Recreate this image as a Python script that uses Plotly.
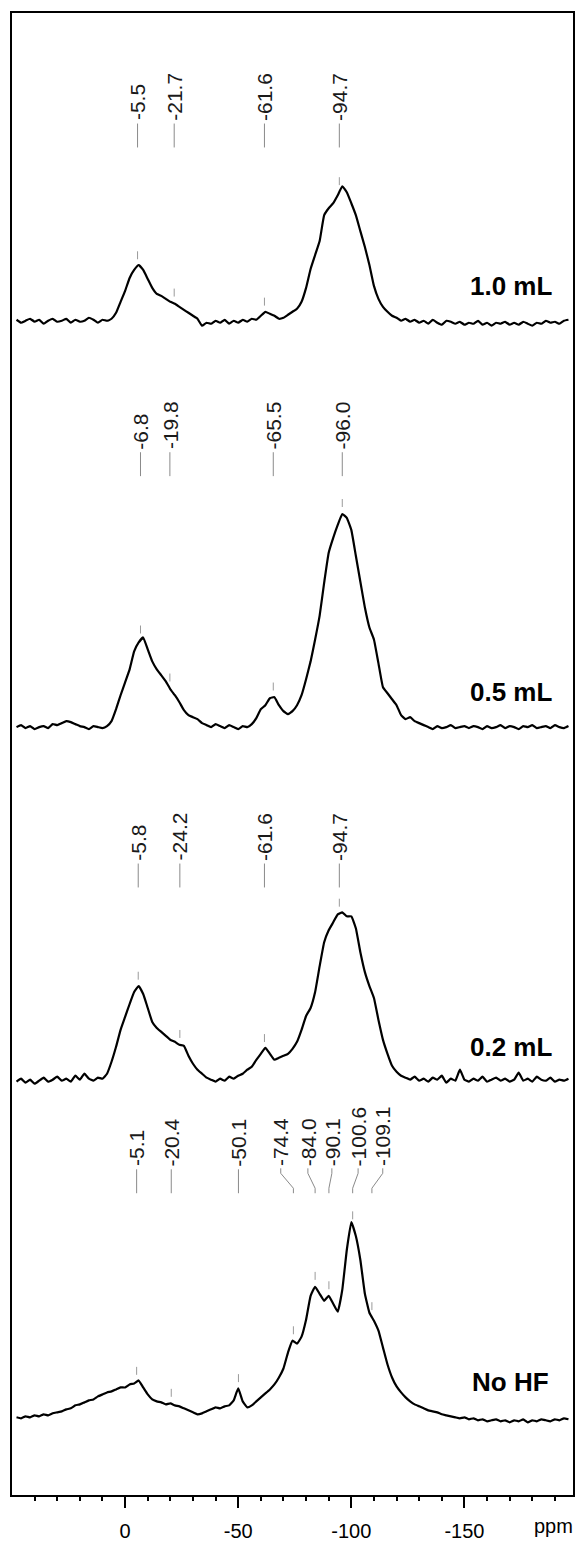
import numpy as np
import plotly.graph_objects as go

# chemical shift grid (ppm), 2 ppm steps from 48 down to -196
ppm = list(range(48, -198, -2))

# signal heights above each baseline (px units of the vertical axis)
hf_1_0 = [
    1, -2, 0, 2, -1, 1, -3, 0, 2, -1,
    0, 2, -2, 1, -1, 0, 3, 1, -2, 1,
    0, 2, 8, 19, 30, 43, 51, 56, 51, 42,
    33, 27, 25, 22, 19, 17, 14, 11, 8, 5,
    2, -5, -2, -3, 0, -2, 1, -3, 0, -2,
    1, -1, 2, 1, 5, 9, 7, 5, 2, 3,
    6, 9, 12, 19, 33, 52, 66, 80, 106, 113,
    118, 126, 135, 129, 118, 106, 90, 74, 56, 35,
    22, 14, 9, 5, 3, 0, 2, -1, 1, -2,
    0, -3, 1, -2, -4, 0, -1, -3, -1, -4,
    -2, -3, 0, -4, -2, -5, -2, -3, -1, -4,
    -2, -4, -1, -3, -5, -2, -3, 0, -2, -1,
    -3, 0, 1,
]
hf_0_5 = [
    0, 2, -1, 1, -2, 0, 1, -1, 3, 2,
    4, 6, 5, 3, 1, 0, -2, 1, 0, -1,
    1, 6, 18, 32, 45, 58, 76, 85, 90, 78,
    66, 58, 52, 46, 38, 32, 25, 17, 12, 10,
    8, 4, 2, 0, 3, 1, -1, 2, 0, -2,
    1, 0, 3, 9, 18, 22, 29, 30, 22, 16,
    13, 16, 22, 32, 48, 66, 88, 112, 145, 175,
    190, 203, 214, 210, 198, 172, 146, 120, 100, 88,
    64, 40, 34, 28, 22, 12, 8, 10, 6, 4,
    2, 0, -2, 1, -1, 0, 2, -1, 0, 1,
    -1, 1, 0, -2, 1, -1, 0, 2, -1, 1,
    0, -2, 1, 0, 2, -1, 0, 1, -1, 2,
    0, -1, 1,
]
hf_0_2 = [
    0, 3, -1, 2, -2, 1, 4, 0, 2, 5,
    1, 3, 0, 6, 2, 8, 3, 1, 4, 3,
    8, 20, 35, 52, 65, 78, 90, 96, 88, 74,
    60, 54, 50, 46, 42, 40, 37, 36, 26, 18,
    12, 8, 4, 2, 0, 3, 1, 5, 3, 6,
    8, 12, 15, 22, 28, 34, 28, 22, 24, 26,
    28, 33, 40, 52, 66, 74, 90, 116, 140, 152,
    160, 168, 170, 166, 166, 154, 130, 110, 96, 84,
    62, 42, 28, 16, 10, 6, 4, 2, 5, 1,
    3, 0, 4, 2, 6, -1, 3, 1, 12, 2,
    0, 3, 1, 5, 0, 2, 4, 1, 3, 0,
    2, 9, 1, 3, 0, 5, 2, 1, 4, 0,
    2, 1, 3,
]
no_hf = [
    0, -1, 1, 0, 2, 1, 3, 2, 4, 5,
    6, 8, 9, 12, 13, 15, 17, 18, 21, 23,
    25, 26, 28, 30, 30, 33, 34, 37, 30, 23,
    18, 16, 15, 13, 14, 12, 11, 9, 7, 5,
    3, 4, 6, 8, 10, 9, 11, 12, 17, 29,
    16, 10, 12, 16, 20, 24, 28, 33, 40, 49,
    65, 77, 74, 81, 98, 122, 131, 124, 117, 122,
    114, 106, 128, 168, 196, 182, 158, 124, 105, 97,
    87, 70, 53, 40, 31, 25, 20, 16, 13, 11,
    9, 7, 6, 5, 3, 2, 1, 0, -1, 0,
    -2, -1, -3, -2, -4, -3, -2, -4, -3, -5,
    -3, -4, -2, -5, -3, -4, -2, -3, -4, -2,
    -3, -1, -2,
]

sample_names = ["1.0 mL", "0.5 mL", "0.2 mL", "No HF"]
spectra = [hf_1_0, hf_0_5, hf_0_2, no_hf]

# assigned peak positions (ppm) for each spectrum
peaks_1_0 = [-5.5, -21.7, -61.6, -94.7]
peaks_0_5 = [-6.8, -19.8, -65.5, -96.0]
peaks_0_2 = [-5.8, -24.2, -61.6, -94.7]
peaks_no_hf = [-5.1, -20.4, -50.1, -74.4, -84.0, -90.1, -100.6, -109.1]
peak_sets = [peaks_1_0, peaks_0_5, peaks_0_2, peaks_no_hf]
# where each label column sits when labels are spread apart (No HF only)
label_cols_no_hf = [-5.1, -20.4, -50.1, -68.8, -80.8, -91.4, -103.0, -113.9]

# layout of the stack (vertical axis runs 0..1488, one unit per pixel)
Y_TOP = 1501
baselines_px = [322, 730, 1086, 1423]
label_bottom_px = [122, 452, 865, 1172]

X_RANGE = [50, -198]
FONT = "Arial, Liberation Sans, Helvetica, sans-serif"
LINE_GREY = "#8a8a8a"
TEXT_COL = "#1a1a1a"

fig = go.Figure()
annotations = []

xs = np.array(ppm, dtype=float)
for name, h, peaks, base_px, lab_px in zip(sample_names, spectra, peak_sets,
                                            baselines_px, label_bottom_px):
    offset = Y_TOP - base_px
    y = offset + np.array(h, dtype=float)
    fig.add_trace(go.Scatter(x=ppm, y=y, mode="lines",
                             line=dict(color="black", width=2.2, shape="spline", smoothing=0.35),
                             hoverinfo="skip", showlegend=False))

    # sample name at the right
    annotations.append(dict(x=-170.5, y=offset + 35, xref="x", yref="y",
                            text=f"<b>{name}</b>", showarrow=False,
                            font=dict(family=FONT, size=26, color="black"),
                            xanchor="center", yanchor="middle"))

    text_base = Y_TOP - lab_px
    cols = label_cols_no_hf if name == "No HF" else peaks
    for p, c in zip(peaks, cols):
        # small tick just above the trace at the peak position
        top_here = np.interp(p, xs[::-1], y[::-1])
        fig.add_trace(go.Scatter(x=[p, p], y=[top_here + 7, top_here + 15], mode="lines",
                                 line=dict(color="#9a9a9a", width=1),
                                 hoverinfo="skip", showlegend=False))
        # leader line from label down towards the peak
        if c == p:
            lx, ly = [p, p], [text_base - 2, text_base - 26]
        else:
            lx = [c, c, p, p]
            ly = [text_base - 1, text_base - 6, text_base - 21, text_base - 26]
        fig.add_trace(go.Scatter(x=lx, y=ly, mode="lines",
                                 line=dict(color=LINE_GREY, width=1),
                                 hoverinfo="skip", showlegend=False))
        annotations.append(dict(x=c, y=text_base, xref="x", yref="y",
                                text=f"{p:.1f}", textangle=-90, showarrow=False,
                                font=dict(family=FONT, size=21, color=TEXT_COL),
                                xanchor="center", yanchor="bottom", borderpad=0))

annotations.append(dict(x=1.004, y=-0.0208, xref="paper", yref="paper", text="ppm",
                        showarrow=False, font=dict(family=FONT, size=20, color="black"),
                        xanchor="right", yanchor="middle"))

fig.update_layout(
    width=582, height=1549,
    margin=dict(l=12, r=7, t=13, b=48),
    paper_bgcolor="white", plot_bgcolor="white",
    annotations=annotations,
    xaxis=dict(range=X_RANGE, showline=True, mirror=True, linecolor="black", linewidth=2,
               showgrid=False, zeroline=False, ticks="outside", ticklen=11, tickwidth=2,
               tickcolor="black", tickvals=[0, -50, -100, -150],
               ticktext=["0", "-50", "-100", "-150"],
               tickfont=dict(family=FONT, size=20, color="black"), ticklabelstandoff=6,
               minor=dict(tickvals=[40, 30, 20, 10, -10, -20, -30, -40, -60, -70, -80, -90,
                                    -110, -120, -130, -140, -160, -170, -180, -190],
                          ticks="outside", ticklen=4, tickwidth=2, tickcolor="black")),
    yaxis=dict(range=[0, 1488], showline=True, mirror=True, linecolor="black", linewidth=2,
               showgrid=False, zeroline=False, showticklabels=False, ticks=""),
)

fig.write_html("out.html")
